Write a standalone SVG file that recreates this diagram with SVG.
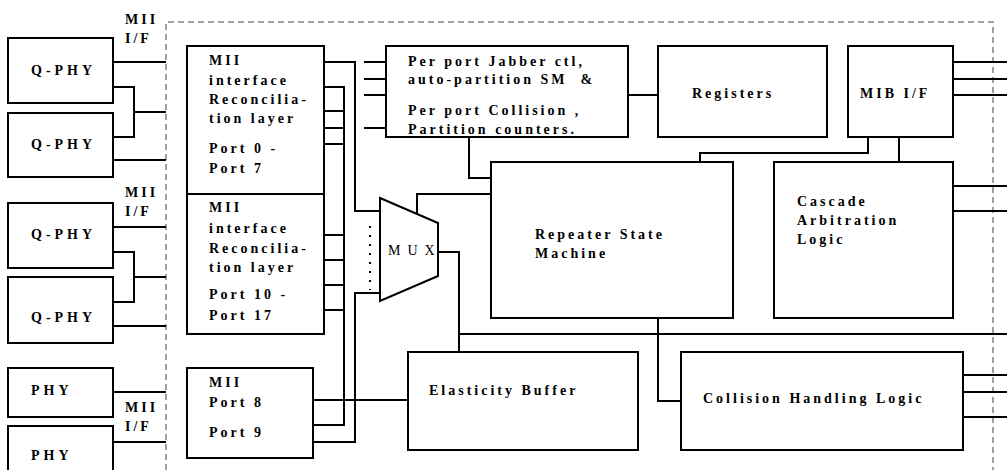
<svg xmlns="http://www.w3.org/2000/svg" width="1007" height="470" viewBox="0 0 1007 470">
<style>
.box{fill:#fff;stroke:#000;stroke-width:2}
.t{font-family:"Liberation Serif",serif;font-weight:bold;font-size:14px;letter-spacing:3px;fill:#000}
.w{fill:none;stroke:#000;stroke-width:2}
.d{fill:none;stroke:#808080;stroke-width:1.5;stroke-dasharray:6 4}
</style>
<rect width="1007" height="470" fill="#fff"/>
<path class="d" d="M166,470 V22 H993 V470"/>
<g id="labels">
<text class="t" x="125" y="24">MII</text><text class="t" x="125" y="43">I/F</text>
<text class="t" x="125" y="197">MII</text><text class="t" x="125" y="216">I/F</text>
<text class="t" x="125" y="412">MII</text><text class="t" x="125" y="431">I/F</text>
</g>
<g id="connectors" class="w">
<path d="M113,62 H166 M113,87 H134 V137 H113 M134,112 H166 M113,160 H166"/>
<path d="M113,227 H166 M113,252 H134 V302 H113 M134,277 H166 M113,326 H166"/>
<path d="M113,392 H166 M113,442 H166"/>
<path d="M324,62 H355 V211 H380 M324,87 H344 V425 H313 M324,111 H344 M324,128 H344 M324,144 H344"/>
<path d="M324,235 H344 M324,260 H344 M324,285 H344 M324,310 H344"/>
<path d="M380,293 H355 V442 H313 M313,400 H408"/>
<path d="M364,62 H387 M364,79 H387 M364,95 H387 M364,128 H387"/>
<path d="M370,226 V290" stroke-width="2" stroke-dasharray="2 7"/>
<path d="M417,214 V194 H491 M469,137 V178 H491"/>
<path d="M438,252 H459 V352 M459,334 H1007"/>
<path d="M628,95 H658"/>
<path d="M953,62 H1007 M953,79 H1007 M953,95 H1007"/>
<path d="M868,137 V153 H700 V162 M899,137 V162"/>
<path d="M953,186 H1007 M953,211 H1007"/>
<path d="M658,318 V401 H681"/>
<path d="M963,375 H1007 M963,392 H1007 M963,417 H1007"/>
</g>
<g id="qphy1"><rect class="box" x="8" y="38" width="105" height="65"/><text class="t" x="31" y="75" style="letter-spacing:4px">Q-PHY</text></g>
<g id="qphy2"><rect class="box" x="8" y="113" width="105" height="64"/><text class="t" x="31" y="149" style="letter-spacing:4px">Q-PHY</text></g>
<g id="qphy3"><rect class="box" x="8" y="203" width="105" height="65"/><text class="t" x="31" y="239" style="letter-spacing:4px">Q-PHY</text></g>
<g id="qphy4"><rect class="box" x="8" y="277" width="105" height="66"/><text class="t" x="31" y="322" style="letter-spacing:4px">Q-PHY</text></g>
<g id="phy5"><rect class="box" x="8" y="368" width="105" height="49"/><text class="t" x="31" y="395" style="letter-spacing:4px">PHY</text></g>
<g id="phy6"><rect class="box" x="8" y="426" width="105" height="60"/><text class="t" x="31" y="460" style="letter-spacing:4px">PHY</text></g>
<g id="mii1"><rect class="box" x="187" y="46" width="137" height="148"/>
<text class="t" x="209" y="65">MII</text><text class="t" x="209" y="85">interface</text><text class="t" x="209" y="104">Reconcilia-</text><text class="t" x="209" y="123">tion layer</text><text class="t" x="209" y="153">Port 0 -</text><text class="t" x="209" y="173">Port 7</text></g>
<g id="mii2"><rect class="box" x="187" y="194" width="137" height="140"/>
<text class="t" x="209" y="212">MII</text><text class="t" x="209" y="233">interface</text><text class="t" x="209" y="253">Reconcilia-</text><text class="t" x="209" y="272">tion layer</text><text class="t" x="209" y="299">Port 10 -</text><text class="t" x="209" y="320">Port 17</text></g>
<g id="mii3"><rect class="box" x="187" y="368" width="126" height="90"/>
<text class="t" x="209" y="387">MII</text><text class="t" x="209" y="407">Port 8</text><text class="t" x="209" y="437">Port 9</text></g>
<g id="mux"><polygon class="box" points="380,198 438,223 438,276 380,301"/>
<text x="388" y="255" style="font-family:'Liberation Serif',serif;font-size:14px;letter-spacing:7px">MUX</text></g>
<g id="jabber"><rect class="box" x="386" y="46" width="242" height="91"/>
<text class="t" x="408" y="66">Per port Jabber ctl,</text><text class="t" x="408" y="84" style="white-space:pre">auto-partition SM  &amp;</text><text class="t" x="408" y="115">Per port Collision ,</text><text class="t" x="408" y="134">Partition counters.</text></g>
<g id="registers"><rect class="box" x="658" y="46" width="169" height="91"/><text class="t" x="692" y="98">Registers</text></g>
<g id="mib"><rect class="box" x="848" y="46" width="105" height="91"/><text class="t" x="860" y="98">MIB I/F</text></g>
<g id="repeater"><rect class="box" x="491" y="162" width="242" height="156"/><text class="t" x="535" y="239">Repeater State</text><text class="t" x="535" y="258">Machine</text></g>
<g id="cascade"><rect class="box" x="774" y="162" width="179" height="156"/><text class="t" x="797" y="206">Cascade</text><text class="t" x="797" y="225">Arbitration</text><text class="t" x="797" y="244">Logic</text></g>
<g id="elasticity"><rect class="box" x="408" y="352" width="230" height="98"/><text class="t" x="429" y="395">Elasticity Buffer</text></g>
<g id="collision"><rect class="box" x="681" y="352" width="282" height="98"/><text class="t" x="703" y="403">Collision Handling Logic</text></g>
</svg>
